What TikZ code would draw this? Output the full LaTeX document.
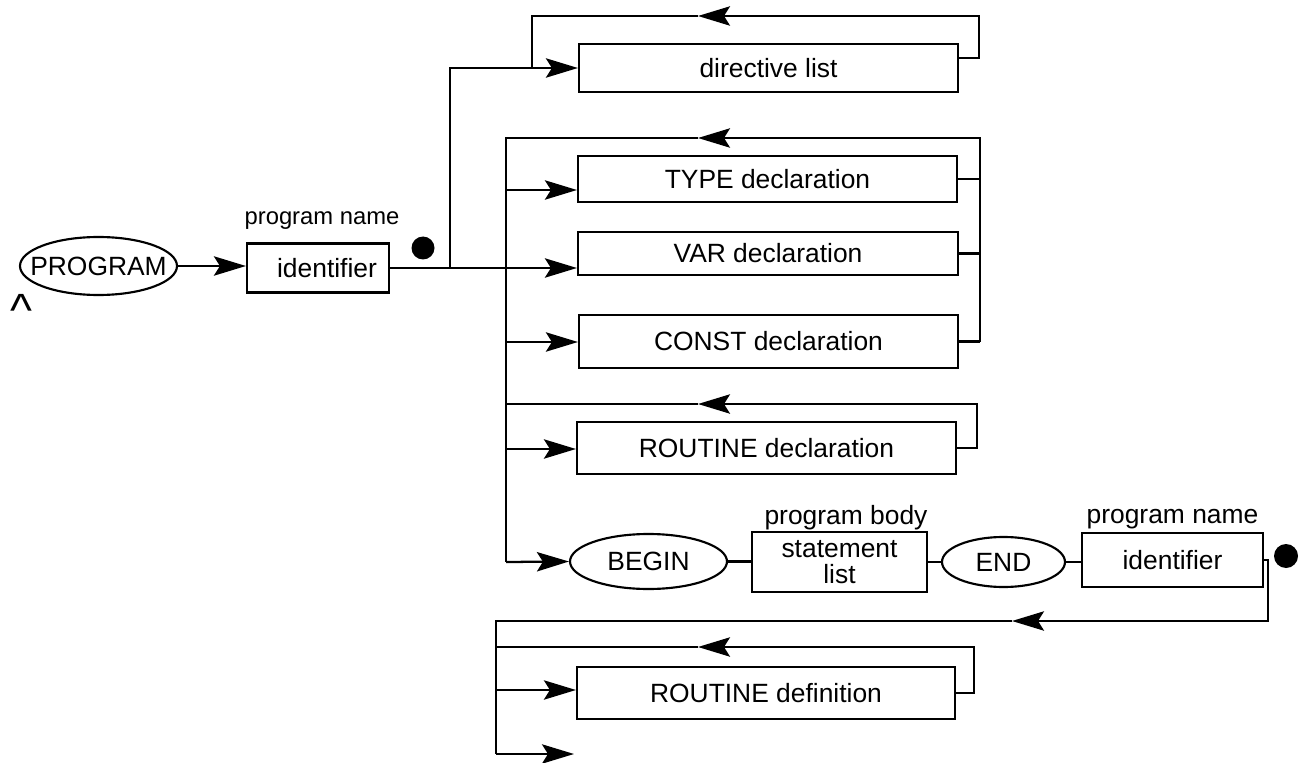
\documentclass[tikz,border=0pt]{standalone}
\usepackage{fontspec}
\setmainfont{Liberation Sans}
\usetikzlibrary{arrows.meta,shapes.geometric,calc}
\begin{document}
\begin{tikzpicture}[x=0.75pt,y=-0.75pt, line width=1.7pt,
  every node/.style={font=\fontsize{19.8}{23}\selectfont},
  boxn/.style={draw, rectangle, inner sep=0pt, line width=1.6pt},
  ovaln/.style={draw, ellipse, inner sep=0pt, line width=1.6pt},
  lbl/.style={inner sep=0pt, anchor=base},
  arr/.style={-{Stealth[length=24pt,width=14.5pt,inset=4.5pt]}},
  dotn/.style={circle, fill=black, inner sep=0pt, minimum size=17.25pt}]
\useasboundingbox (0,0) rectangle (1304,763);

% nodes
\node[ovaln, minimum width=117.75pt, minimum height=43.5pt] (prog) at (98.5,266) {\makebox[0pt]{PROGRAM}};
\node[inner sep=0pt, anchor=base west, font=\fontsize{35}{40}\selectfont] (caret) at (9,326) {\textasciicircum};
\node[boxn, minimum width=106.5pt, minimum height=36.75pt] (id1) at (318,268) {\hspace*{13.5pt}identifier};
\node[lbl, font=\fontsize{17.85}{20}\selectfont] (pn1) at (322,225) {program name};
\node[dotn] (dot1) at (423,248) {};

\node[boxn, minimum width=284.25pt, minimum height=36pt] (dir) at (768.5,68) {directive list};
\node[boxn, minimum width=284.25pt, minimum height=34.5pt] (type) at (767.5,179) {TYPE declaration};
\node[boxn, minimum width=285pt, minimum height=32.25pt] (var) at (768,253.5) {VAR declaration};
\node[boxn, minimum width=284.25pt, minimum height=39.75pt] (const) at (768.5,341.5) {CONST declaration};
\node[boxn, minimum width=284.25pt, minimum height=39pt] (rdecl) at (766.5,448) {ROUTINE declaration};

\node[ovaln, minimum width=117.75pt, minimum height=41.25pt] (begin) at (648.5,561.5) {\makebox[0pt]{BEGIN}};
\node[boxn, minimum width=131.25pt, minimum height=45pt, align=center, font=\fontsize{19.8}{19}\selectfont] (stmt) at (839.5,562) {statement\\list};
\node[lbl] (pb) at (846,524) {program body};
\node[ovaln, minimum width=92.25pt, minimum height=37.5pt] (end) at (1003.5,562) {\makebox[0pt]{END}};
\node[boxn, minimum width=135.75pt, minimum height=40.5pt] (id2) at (1172.5,560) {identifier};
\node[lbl] (pn2) at (1172.5,523) {program name};
\node[dotn, minimum size=18pt] (dot2) at (1286,556) {};

\node[boxn, minimum width=283.5pt, minimum height=39pt] (rdef) at (766,693) {ROUTINE definition};

% junction coordinates
\coordinate (jd) at (450,268);
\coordinate (dirR) at (979,16);
\coordinate (dirL) at (532,16);
\coordinate (dirT) at (698,16);
\coordinate (dR) at (980,138);
\coordinate (dL) at (506,138);
\coordinate (dT) at (698,138);
\coordinate (dB) at (506,562);
\coordinate (te) at (506,190);
\coordinate (ce) at (506,342);
\coordinate (re) at (506,449);
\coordinate (rR) at (977,404);
\coordinate (rL) at (506,404);
\coordinate (rT) at (698,404);
\coordinate (rtR) at (1268,621);
\coordinate (rtT) at (1012,621);
\coordinate (rtL) at (496,621);
\coordinate (bot) at (496,754);
\coordinate (botE) at (574,754);
\coordinate (fR) at (974,647);
\coordinate (fL) at (496,647);
\coordinate (fT) at (698,647);
\coordinate (fe) at (496,690);

% main path
\draw[arr] (prog.east) -- (prog.east -| id1.west);
\draw[arr] (id1.east) -- (id1.east -| var.west);
\draw[arr] (jd) |- (dir.west);
\draw[arr] ($(dir.east)+(0,-10)$) -| (dirR) -- (dirT);
\draw (dirT) -- (dirL) -- (dirL |- dir.west);

% declarations group
\draw[arr] (dR |- const.east) -- (dR) -- (dT);
\draw (dT) -- (dL) -- (dB);
\draw (type.east) -- (type.east -| dR);
\draw (var.east) -- (var.east -| dR);
\draw (const.east) -- (const.east -| dR);
\draw[arr] (te) -- (te -| type.west);
\draw[arr] (ce) -- (ce -| const.west);

% routine declaration
\draw[arr] (re) -- (re -| rdecl.west);
\draw[arr] (rdecl.east) -| (rR) -- (rT);
\draw (rT) -- (rL);

% body row
\draw[arr] (dB) -- (begin.west);
\draw (begin.east) -- (begin.east -| stmt.west);
\draw (stmt.east) -- (stmt.east -| end.west);
\draw (end.east) -- (end.east -| id2.west);

% return and routine definitions
\draw[arr] (id2.east) -| (rtR) -- (rtT);
\draw (rtT) -- (rtL) -- (bot);
\draw[arr] (bot) -- (botE);
\draw[arr] (fe) -- (fe -| rdef.west);
\draw[arr] (rdef.east) -| (fR) -- (fT);
\draw (fT) -- (fL);
\end{tikzpicture}
\end{document}
